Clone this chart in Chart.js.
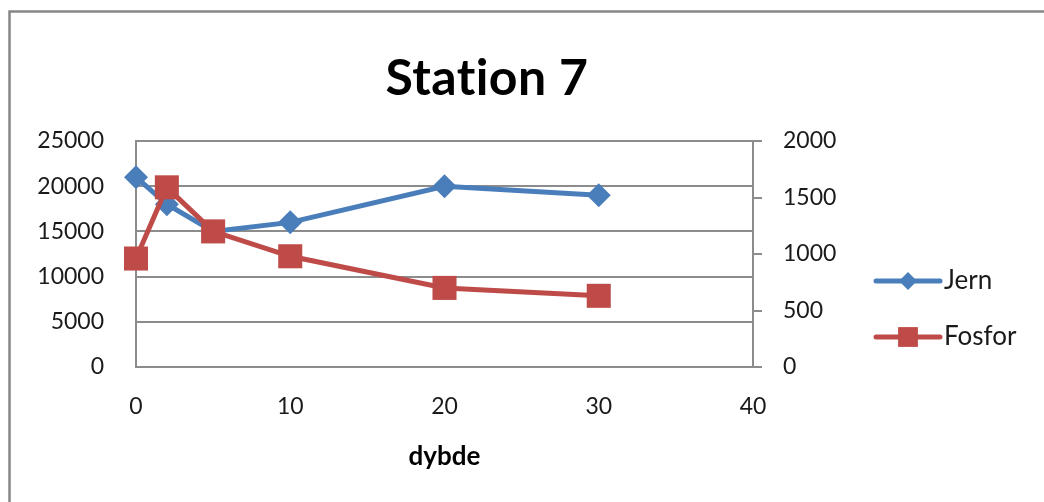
<!DOCTYPE html>
<html>
<head>
<meta charset="utf-8">
<title>Station 7</title>
<script src="https://cdn.jsdelivr.net/npm/chart.js@4/dist/chart.umd.min.js"></script>
<style>
  html, body { margin: 0; padding: 0; background: #fff; }
  #wrap { width: 1044px; height: 502px; position: relative; }
</style>
</head>
<body>
<div id="wrap"><canvas id="c" width="1044" height="502"></canvas></div>
<script>
// Depth profile, station 7
const depth = [0, 2, 5, 10, 20, 30];
const jern = [21000, 18000, 15000, 16000, 20000, 19000];
const fosfor = [960, 1590, 1200, 980, 700, 630];
const seriesNames = ['Jern', 'Fosfor'];
const chartTitle = 'Station 7';
const xTitle = 'dybde';
const xTicks = [0, 10, 20, 30, 40];
const leftTicks = [0, 5000, 10000, 15000, 20000, 25000];
const rightTicks = [0, 500, 1000, 1500, 2000];

const BLUE = '#4A7EBB';
const RED = '#BE4B48';
const GRID = '#8c8c8c';
const FONT = 'Lato, "Open Sans", sans-serif';

const toPoints = (xs, ys) => xs.map((x, i) => ({ x: x, y: ys[i] }));
const plain = v => String(v);

// Frame, title and the legend with line + marker samples
const decorations = {
  id: 'decorations',
  beforeDraw(chart) {
    const ctx = chart.ctx;
    ctx.save();
    ctx.fillStyle = '#fff';
    ctx.fillRect(0, 0, chart.width, chart.height);
    ctx.strokeStyle = '#878787';
    ctx.lineWidth = 2.5;
    ctx.beginPath();
    ctx.moveTo(9.5, chart.height + 5);
    ctx.lineTo(9.5, 11.5);
    ctx.lineTo(chart.width + 5, 11.5);
    ctx.stroke();
    ctx.restore();
  },
  afterDraw(chart) {
    const ctx = chart.ctx;
    const area = chart.chartArea;
    ctx.save();
    // title
    ctx.fillStyle = '#000';
    ctx.font = 'bold 50px ' + FONT;
    ctx.letterSpacing = '0.4px';
    ctx.textAlign = 'center';
    ctx.textBaseline = 'middle';
    ctx.fillText(chartTitle, 487, 79);
    ctx.letterSpacing = '0px';

    // legend
    const x0 = area.right + 123;
    seriesNames.forEach((name, row) => {
      const ds = chart.data.datasets.find(d => d.label === name);
      const y = area.top + 140 + row * 56;
      ctx.strokeStyle = ds.borderColor;
      ctx.lineWidth = 5;
      ctx.lineCap = 'round';
      ctx.beginPath();
      ctx.moveTo(x0, y);
      ctx.lineTo(x0 + 64, y);
      ctx.stroke();
      ctx.fillStyle = ds.backgroundColor;
      Chart.helpers.drawPoint(ctx, {
        pointStyle: ds.pointStyle,
        radius: ds.pointStyle === 'rect' ? 14 : 9,
        borderWidth: 0,
        rotation: 0
      }, x0 + 32, y);
      ctx.fillStyle = '#1a1a1a';
      ctx.font = '26px ' + FONT;
      ctx.textAlign = 'left';
      ctx.textBaseline = 'middle';
      ctx.fillText(ds.label, x0 + 68, y);
    });
    ctx.restore();
  }
};

new Chart(document.getElementById('c'), {
  type: 'scatter',
  data: {
    datasets: [
      {
        label: seriesNames[0],
        data: toPoints(depth, jern),
        yAxisID: 'y',
        showLine: true,
        tension: 0,
        clip: false,
        borderColor: BLUE,
        backgroundColor: BLUE,
        borderWidth: 5,
        pointStyle: 'rectRot',
        pointRadius: 12,
        pointHoverRadius: 12,
        pointBorderWidth: 0,
        order: 1
      },
      {
        label: seriesNames[1],
        data: toPoints(depth, fosfor),
        yAxisID: 'y2',
        showLine: true,
        tension: 0,
        clip: false,
        borderColor: RED,
        backgroundColor: RED,
        borderWidth: 5,
        pointStyle: 'rect',
        pointRadius: 17,
        pointHoverRadius: 17,
        pointBorderWidth: 0,
        order: 0
      }
    ]
  },
  options: {
    responsive: false,
    animation: false,
    events: [],
    layout: { padding: { left: 0, top: 141, right: 191, bottom: 0 } },
    plugins: {
      legend: { display: false },
      title: { display: false },
      tooltip: { enabled: false }
    },
    scales: {
      x: {
        type: 'linear',
        position: 'bottom',
        min: xTicks[0],
        max: xTicks[xTicks.length - 1],
        afterBuildTicks: s => { s.ticks = xTicks.map(v => ({ value: v })); },
        afterFit: s => { s.height = 135; },
        grid: { drawOnChartArea: false, drawTicks: false },
        border: { display: true, color: GRID, width: 2 },
        ticks: { padding: 26, color: '#1a1a1a', font: { family: FONT, size: 23 }, maxRotation: 0, callback: plain },
        title: {
          display: true,
          text: xTitle,
          color: '#000',
          font: { family: FONT, size: 26, weight: 'bold' },
          padding: { top: 0, bottom: 30 }
        }
      },
      y: {
        type: 'linear',
        position: 'left',
        min: leftTicks[0],
        max: leftTicks[leftTicks.length - 1],
        afterBuildTicks: s => { s.ticks = leftTicks.map(v => ({ value: v })); },
        afterFit: s => { s.width = 136; },
        grid: { color: GRID, lineWidth: 2, drawTicks: false },
        border: { display: true, color: GRID, width: 2 },
        ticks: { padding: 32, color: '#1a1a1a', font: { family: FONT, size: 23 }, callback: plain }
      },
      y2: {
        type: 'linear',
        position: 'right',
        min: rightTicks[0],
        max: rightTicks[rightTicks.length - 1],
        afterBuildTicks: s => { s.ticks = rightTicks.map(v => ({ value: v })); },
        afterFit: s => { s.width = 100; },
        grid: { drawOnChartArea: false, drawTicks: true, tickLength: 9, color: GRID, lineWidth: 2 },
        border: { display: true, color: GRID, width: 2 },
        ticks: { padding: 21, color: '#1a1a1a', font: { family: FONT, size: 23 }, callback: plain }
      }
    }
  },
  plugins: [decorations]
});
</script>
</body>
</html>
